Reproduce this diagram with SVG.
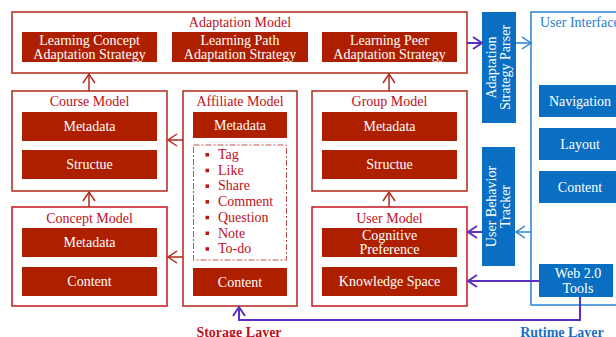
<svg xmlns="http://www.w3.org/2000/svg" width="616" height="337" viewBox="0 0 616 337">
<defs>
<style>
.frame{fill:#fff;stroke:#B22A1A;stroke-width:1.5}
.frame2{fill:#fff;stroke:#C8141E;stroke-width:1.5}
.dk{fill:#AE1F00}
.bl{fill:#0A6FC2}
.ttl{font-family:'Liberation Serif',serif;font-size:14px;fill:#C0101A;text-anchor:middle}
.wt{font-family:'Liberation Serif',serif;font-size:14px;fill:#fff;text-anchor:middle}
.li{font-family:'Liberation Serif',serif;font-size:14px;fill:#C0101A}
.lay{font-family:'Liberation Serif',serif;font-size:14px;font-weight:bold;text-anchor:middle}
.rc{stroke:#B22A1A;stroke-width:1.5;fill:none}
.pc{stroke:#5B2FC0;stroke-width:2;fill:none}
.bc{stroke:#2A84D2;stroke-width:1.5;fill:none}
</style>
<marker id="ar" markerWidth="12" markerHeight="14" refX="10" refY="7" orient="auto" markerUnits="userSpaceOnUse"><path d="M1,1 L10,7 L1,13" fill="none" stroke="#B22A1A" stroke-width="1.5"/></marker>
<marker id="ap" markerWidth="12" markerHeight="14" refX="10" refY="7" orient="auto" markerUnits="userSpaceOnUse"><path d="M1,1 L10,7 L1,13" fill="none" stroke="#5B2FC0" stroke-width="2"/></marker>
<marker id="ab" markerWidth="12" markerHeight="14" refX="10" refY="7" orient="auto" markerUnits="userSpaceOnUse"><path d="M1,1 L10,7 L1,13" fill="none" stroke="#2A84D2" stroke-width="1.5"/></marker>
</defs>
<rect width="616" height="337" fill="#fff"/>

<g id="user-interface">
<rect x="531" y="12" width="100" height="293" class="bc" fill="#fff"/>
<text x="540" y="27" font-family="'Liberation Serif',serif" font-size="14" fill="#2A7CC8">User Interface</text>
<rect x="539" y="85" width="83" height="32" class="bl"/>
<text x="580" y="106" class="wt">Navigation</text>
<rect x="539" y="128" width="83" height="32" class="bl"/>
<text x="580" y="149" class="wt">Layout</text>
<rect x="539" y="171" width="83" height="32" class="bl"/>
<text x="580" y="192" class="wt">Content</text>
</g>

<g id="web-tools">
<rect x="539" y="264" width="74" height="33" class="bl"/>
<text x="578" y="278" class="wt">Web 2.0</text>
<text x="578" y="293" class="wt">Tools</text>
</g>

<g id="adaptation-model">
<rect x="12" y="12" width="455" height="61" class="frame"/>
<text x="240" y="27" class="ttl">Adaptation Model</text>
<rect x="22" y="32" width="135" height="30" class="dk"/>
<text x="89.5" y="45" class="wt">Learning Concept</text>
<text x="89.5" y="59" class="wt">Adaptation Strategy</text>
<rect x="172" y="32" width="136" height="30" class="dk"/>
<text x="240" y="45" class="wt">Learning Path</text>
<text x="240" y="59" class="wt">Adaptation Strategy</text>
<rect x="322" y="32" width="135" height="30" class="dk"/>
<text x="389.5" y="45" class="wt">Learning Peer</text>
<text x="389.5" y="59" class="wt">Adaptation Strategy</text>
</g>

<g id="course-model">
<rect x="12" y="91" width="155" height="100" class="frame"/>
<text x="89.5" y="106" class="ttl">Course Model</text>
<rect x="22" y="112" width="135" height="29" class="dk"/>
<text x="89.5" y="131" class="wt">Metadata</text>
<rect x="22" y="150" width="135" height="29" class="dk"/>
<text x="89.5" y="169" class="wt">Structue</text>
</g>

<g id="concept-model">
<rect x="12" y="207" width="155" height="99" class="frame2"/>
<text x="89.5" y="223" class="ttl">Concept Model</text>
<rect x="22" y="228" width="135" height="29" class="dk"/>
<text x="89.5" y="247" class="wt">Metadata</text>
<rect x="22" y="267" width="135" height="29" class="dk"/>
<text x="89.5" y="286" class="wt">Content</text>
</g>

<g id="affiliate-model">
<rect x="183" y="91" width="114" height="215" class="frame"/>
<text x="240" y="106" class="ttl">Affiliate Model</text>
<rect x="193" y="112" width="94" height="26" class="dk"/>
<text x="240" y="130" class="wt">Metadata</text>
<rect x="193.5" y="145" width="93" height="115" fill="none" stroke="#C05050" stroke-width="1" stroke-dasharray="6,2,2,2"/>
<g fill="#C0101A">
<rect x="205.5" y="153" width="3.5" height="3.5"/>
<rect x="205.5" y="168.7" width="3.5" height="3.5"/>
<rect x="205.5" y="184.4" width="3.5" height="3.5"/>
<rect x="205.5" y="200.1" width="3.5" height="3.5"/>
<rect x="205.5" y="215.8" width="3.5" height="3.5"/>
<rect x="205.5" y="231.5" width="3.5" height="3.5"/>
<rect x="205.5" y="247.2" width="3.5" height="3.5"/>
</g>
<text x="218" y="159" class="li">Tag</text>
<text x="218" y="174.7" class="li">Like</text>
<text x="218" y="190.4" class="li">Share</text>
<text x="218" y="206.1" class="li">Comment</text>
<text x="218" y="221.8" class="li">Question</text>
<text x="218" y="237.5" class="li">Note</text>
<text x="218" y="253.2" class="li">To-do</text>
<rect x="193" y="268" width="94" height="28" class="dk"/>
<text x="240" y="287" class="wt">Content</text>
</g>

<g id="group-model">
<rect x="312" y="91" width="155" height="100" class="frame"/>
<text x="389.5" y="106" class="ttl">Group Model</text>
<rect x="322" y="112" width="135" height="29" class="dk"/>
<text x="389.5" y="131" class="wt">Metadata</text>
<rect x="322" y="150" width="135" height="29" class="dk"/>
<text x="389.5" y="169" class="wt">Structue</text>
</g>

<g id="user-model">
<rect x="312" y="207" width="155" height="99" class="frame2"/>
<text x="389.5" y="223" class="ttl">User Model</text>
<rect x="322" y="228" width="135" height="29" class="dk"/>
<text x="389.5" y="240" class="wt">Cognitive</text>
<text x="389.5" y="254" class="wt">Preference</text>
<rect x="322" y="267" width="135" height="29" class="dk"/>
<text x="389.5" y="286" class="wt">Knowledge Space</text>
</g>

<g id="adaptation-strategy-parser">
<rect x="482" y="12" width="34" height="111" class="bl"/>
<text transform="translate(499,67.5) rotate(-90)" class="wt"><tspan x="0" y="-3">Adaptation</tspan><tspan x="0" y="11">Strategy Parser</tspan></text>
</g>

<g id="user-behavior-tracker">
<rect x="482" y="147" width="33" height="119" class="bl"/>
<text transform="translate(498.5,206.5) rotate(-90)" class="wt"><tspan x="0" y="-3">User Behavior</tspan><tspan x="0" y="11">Tracker</tspan></text>
</g>

<g id="connectors">
<line x1="89" y1="91" x2="89" y2="74" class="rc" marker-end="url(#ar)"/>
<line x1="389" y1="91" x2="389" y2="74" class="rc" marker-end="url(#ar)"/>
<line x1="89" y1="207" x2="89" y2="192" class="rc" marker-end="url(#ar)"/>
<line x1="389" y1="207" x2="389" y2="192" class="rc" marker-end="url(#ar)"/>
<line x1="183" y1="140" x2="168" y2="140" class="rc" marker-end="url(#ar)"/>
<line x1="183" y1="257" x2="168" y2="257" class="rc" marker-end="url(#ar)"/>
<line x1="467" y1="43" x2="482" y2="43" class="pc" marker-end="url(#ap)"/>
<line x1="516" y1="43" x2="531" y2="43" class="bc" marker-end="url(#ab)"/>
<line x1="531" y1="232" x2="516" y2="232" class="bc" marker-end="url(#ab)"/>
<line x1="482" y1="232" x2="468" y2="232" class="pc" marker-end="url(#ap)"/>
<line x1="539" y1="281" x2="468" y2="281" class="pc" marker-end="url(#ap)"/>
<polyline points="580,297 580,320 239,320 239,307" class="pc" marker-end="url(#ap)"/>
</g>

<text x="239" y="337" class="lay" fill="#C0101A">Storage Layer</text>
<text x="562" y="337" class="lay" fill="#1C6FC0">Rutime Layer</text>
</svg>
